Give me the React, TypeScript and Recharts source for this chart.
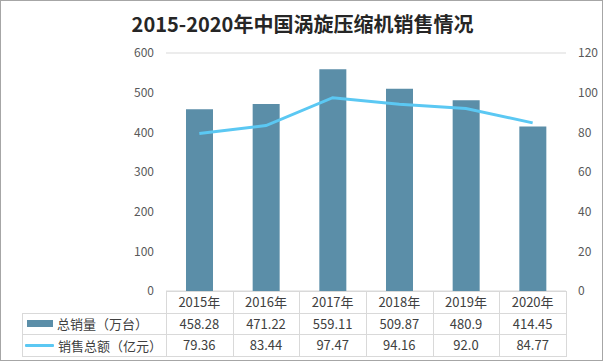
import React from 'react'
import { ComposedChart, Bar, Line, XAxis, YAxis, CartesianGrid } from 'recharts'

// Categories and series
const years = ['2015年', '2016年', '2017年', '2018年', '2019年', '2020年']
const salesVolume = [458.28, 471.22, 559.11, 509.87, 480.9, 414.45]
const salesAmount = [79.36, 83.44, 97.47, 94.16, 92.0, 84.77]
const volumeLabels = ['458.28', '471.22', '559.11', '509.87', '480.9', '414.45']
const amountLabels = ['79.36', '83.44', '97.47', '94.16', '92.0', '84.77']
const leftTicks = [0, 100, 200, 300, 400, 500, 600]
const rightTicks = [0, 20, 40, 60, 80, 100, 120]

const data = years.map((year, i) => ({
  year,
  volume: salesVolume[i],
  amount: salesAmount[i],
}))

const BAR_COLOR = '#5b8ea8'
const LINE_COLOR = '#5bc8f3'
const GRID_COLOR = '#d9d9d9'
const FONT = '"Noto Sans CJK SC", "Noto Sans", sans-serif'

const W = 605
const H = 364
const PLOT_LEFT = 166
const PLOT_RIGHT = 566
const PLOT_TOP = 53
const PLOT_BOTTOM = 291
const TABLE_LEFT = 22
const ROWS = [291, 313, 334, 356]

const tickStyle = { fill: '#595959', fontSize: 12, fontFamily: FONT }

function DataTable() {
  const colW = (PLOT_RIGHT - PLOT_LEFT) / years.length
  const lines: React.ReactNode[] = []
  // horizontal rules
  ROWS.forEach((y, i) => {
    const x0 = i === 0 ? PLOT_LEFT : TABLE_LEFT
    lines.push(
      <div key={'h' + i} style={{ position: 'absolute', left: x0, top: y, width: PLOT_RIGHT - x0 + 1, height: 1, background: GRID_COLOR }} />
    )
  })
  // vertical rules
  lines.push(
    <div key="vl" style={{ position: 'absolute', left: TABLE_LEFT, top: ROWS[1], width: 1, height: ROWS[3] - ROWS[1] + 1, background: GRID_COLOR }} />
  )
  for (let i = 0; i <= years.length; i++) {
    lines.push(
      <div key={'v' + i} style={{ position: 'absolute', left: Math.round(PLOT_LEFT + i * colW), top: ROWS[0], width: 1, height: ROWS[3] - ROWS[0] + 1, background: GRID_COLOR }} />
    )
  }

  const rowsText = [years, volumeLabels, amountLabels]
  const cells: React.ReactNode[] = []
  rowsText.forEach((row, r) => {
    row.forEach((txt, c) => {
      cells.push(
        <div
          key={`c${r}-${c}`}
          style={{
            position: 'absolute',
            left: PLOT_LEFT + c * colW,
            top: ROWS[r],
            width: colW,
            height: ROWS[r + 1] - ROWS[r],
            lineHeight: `${ROWS[r + 1] - ROWS[r]}px`,
            textAlign: 'center',
            fontSize: 13,
            color: '#404040',
          }}
        >
          {txt}
        </div>
      )
    })
  })

  const legendRow = (r: number, swatch: React.ReactNode, label: string) => (
    <div
      key={'lg' + r}
      style={{
        position: 'absolute',
        left: TABLE_LEFT + 1,
        top: ROWS[r],
        height: ROWS[r + 1] - ROWS[r],
        width: PLOT_LEFT - TABLE_LEFT - 1,
        display: 'flex',
        alignItems: 'center',
        fontSize: 13,
        color: '#404040',
      }}
    >
      {swatch}
      <span style={{ marginLeft: 4 }}>{label}</span>
    </div>
  )

  return (
    <div style={{ position: 'absolute', left: 0, top: 0, fontFamily: FONT }}>
      {lines}
      {cells}
      {legendRow(1, <div style={{ marginLeft: 4, width: 26, height: 7, background: BAR_COLOR }} />, '总销量（万台）')}
      {legendRow(2, <div style={{ marginLeft: 2, width: 29, height: 3, background: LINE_COLOR, borderRadius: 1 }} />, '销售总额（亿元）')}
    </div>
  )
}

export default function App() {
  return (
    <div style={{ position: 'absolute', left: 0, top: 0, width: W, height: H, background: '#fff' }}>
      <div
        style={{
          position: 'absolute',
          left: 0,
          top: 0,
          width: 603,
          height: 361,
          boxSizing: 'border-box',
          border: '1px solid #a6a6a6',
        }}
      />
      <div
        style={{
          position: 'absolute',
          left: 0,
          top: 11,
          width: W,
          textAlign: 'center',
          fontFamily: FONT,
          fontWeight: 'bold',
          fontSize: 20,
          color: '#262626',
          lineHeight: '26px',
        }}
      >
        2015-2020年中国涡旋压缩机销售情况
      </div>
      <div style={{ position: 'absolute', left: 0, top: 0 }}>
        <ComposedChart
          width={W}
          height={H}
          data={data}
          margin={{ top: PLOT_TOP, right: 0, bottom: H - PLOT_BOTTOM, left: PLOT_LEFT - 60 }}
        >
          <CartesianGrid vertical={false} stroke={GRID_COLOR} />
          <XAxis dataKey="year" hide />
          <YAxis
            yAxisId="left"
            width={60}
            domain={[0, 600]}
            ticks={leftTicks}
            axisLine={false}
            tickLine={false}
            tickMargin={6}
            tick={tickStyle}
            interval={0}
          />
          <YAxis
            yAxisId="right"
            orientation="right"
            width={W - PLOT_RIGHT}
            domain={[0, 120]}
            ticks={rightTicks}
            axisLine={false}
            tickLine={false}
            tickMargin={6}
            tick={tickStyle}
            interval={0}
          />
          <Bar yAxisId="left" dataKey="volume" fill={BAR_COLOR} barSize={27} isAnimationActive={false} />
          <Line
            yAxisId="right"
            dataKey="amount"
            type="linear"
            stroke={LINE_COLOR}
            strokeWidth={3}
            dot={false}
            activeDot={false}
            isAnimationActive={false}
          />
        </ComposedChart>
      </div>
      <DataTable />
    </div>
  )
}
